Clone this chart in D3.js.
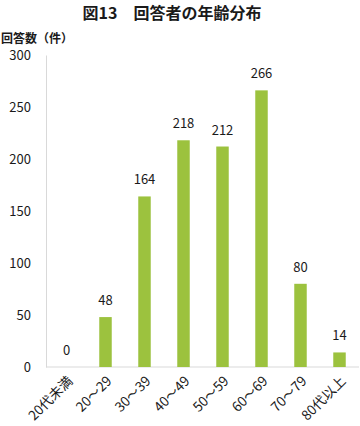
<!DOCTYPE html>
<html><head><meta charset="utf-8">
<script src="https://cdn.jsdelivr.net/npm/d3@7"></script>
<style>
body{margin:0;background:#fff;}
text{font-family:"Noto Sans CJK JP","Noto Sans",sans-serif;fill:#1a1a1a;}
</style></head>
<body><svg id="c" width="360" height="426"></svg>
<script>
const categories = ["20代未満","20～29","30～39","40～49","50～59","60～69","70～79","80代以上"];
const values = [0,48,164,218,212,266,80,14];
const yTicks = [0,50,100,150,200,250,300];
const title = "図13　回答者の年齢分布";
const yTitle = "回答数（件）";

const svg = d3.select("#c");
const x = d3.scaleBand().domain(categories).range([47,359]).paddingInner(0.68).paddingOuter(0.34);
const y = d3.scaleLinear().domain([0,300]).range([367,55]);

svg.append("text").attr("x",172).attr("y",19).attr("text-anchor","middle")
  .attr("font-size",16).attr("font-weight","bold").text(title);
svg.append("text").attr("x",1).attr("y",43).attr("font-size",12).attr("font-weight","bold").text(yTitle);

// y axis
const ya = svg.append("g").attr("transform","translate(46,0)").call(d3.axisLeft(y).tickValues(yTicks).tickSize(0).tickPadding(15));
ya.select(".domain").attr("stroke","#d9d9d9");
ya.selectAll("text").attr("font-size",13).style("font-family","'Noto Sans CJK JP',sans-serif").attr("fill","#1a1a1a");

// x axis
const xa = svg.append("g").attr("transform","translate(0,367)").call(d3.axisBottom(x).tickSize(0));
xa.select(".domain").attr("stroke","#d9d9d9").attr("d","M46,0H359");
xa.selectAll("text").attr("font-size",13.5).style("font-family","'Noto Sans CJK JP',sans-serif").attr("fill","#1a1a1a")
  .attr("text-anchor","end").attr("dy",0).attr("y",0)
  .attr("transform","translate(7,15) rotate(-45)");

svg.append("g").selectAll("rect").data(values).join("rect")
  .attr("x",(d,i)=>x(categories[i])).attr("width",x.bandwidth())
  .attr("y",d=>y(d)).attr("height",d=>y(0)-y(d)).attr("fill","#9cc23e");

svg.append("g").selectAll("text").data(values).join("text")
  .attr("x",(d,i)=>x(categories[i])+x.bandwidth()/2).attr("y",d=>y(d)-12)
  .attr("text-anchor","middle").attr("font-size",13).text(d=>d);
</script></body></html>
